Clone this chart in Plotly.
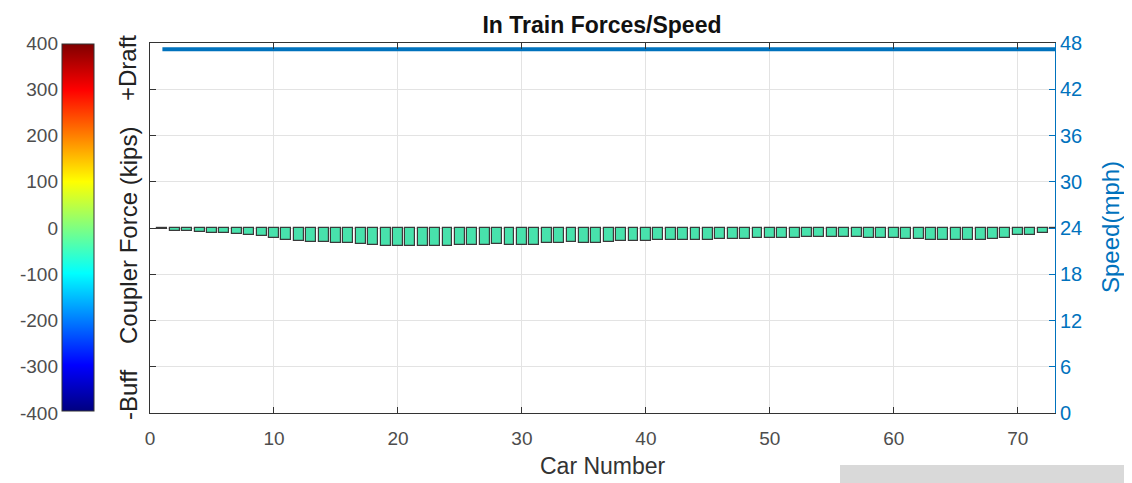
import plotly.graph_objects as go

# ---------------- data ----------------
car_numbers = list(range(1, 74))
coupler_force = [-2, -6, -7, -9, -11.5, -11.5, -13, -16, -17, -22,
                 -26, -29, -31, -31, -33, -33, -35, -37, -39, -38,
                 -39, -39, -39, -39, -36, -37, -37, -34.5, -36, -36,
                 -36, -33, -33, -30, -31.5, -31.5, -30, -29, -29, -28,
                 -27, -27, -26, -26, -27, -23, -23, -23, -21.5, -21.5,
                 -21.5, -21.5, -18.5, -18.5, -18.5, -18.5, -18.5, -21.5, -21.5, -21.5,
                 -23, -24.5, -26, -26, -26, -26, -26, -24.5, -21.5, -16,
                 -14.5, -10, -3]
speed_mph = [47.2] * 73
force_ticks = [-400, -300, -200, -100, 0, 100, 200, 300, 400]
force_ticktext = ["-400", "-300", "-200", "-100", "0", "100", "200", "300", "400"]
speed_ticks = [0, 6, 12, 18, 24, 30, 36, 42, 48]
x_ticks = [0, 10, 20, 30, 40, 50, 60, 70]

# page body has an 8px margin: figure is sized/positioned to compensate
OFF = 8
W, H = 1132 - OFF, 483 - OFF
FONT = "Arial, Liberation Sans, sans-serif"
BLUE = "rgb(0,114,189)"
TICKGRAY = "#4d4d4d"

jet = [[0.0, "rgb(0,0,128)"], [0.125, "rgb(0,0,255)"], [0.375, "rgb(0,255,255)"],
       [0.5, "rgb(128,255,128)"], [0.625, "rgb(255,255,0)"], [0.875, "rgb(255,0,0)"],
       [1.0, "rgb(128,0,0)"]]

def px(x):
    return (x - OFF) / W

def py(y):
    return 1 - (y - OFF) / H

fig = go.Figure()

fig.add_trace(go.Bar(
    x=car_numbers, y=coupler_force, width=0.8,
    marker=dict(color="rgb(72,226,172)",
                line=dict(color="#3a3a3a", width=1.2)),
    showlegend=False, hoverinfo="x+y",
))

# colorbar (jet, -400..400) via an invisible marker trace
fig.add_trace(go.Scatter(
    x=[None], y=[None], mode="markers",
    marker=dict(color=[0], colorscale=jet, cmin=-400, cmax=400, showscale=True,
                colorbar=dict(x=px(62), xanchor="left", y=py(44), yanchor="top",
                              len=(411 - 44) / H, lenmode="fraction",
                              thickness=32, thicknessmode="pixels",
                              outlinewidth=1, outlinecolor="#333",
                              showticklabels=False, ticks="", xpad=0, ypad=0)),
    showlegend=False, hoverinfo="skip",
))

# dummy trace for colorbar label axis
fig.add_trace(go.Scatter(x=[None], y=[None], yaxis="y3", showlegend=False, hoverinfo="skip"))

fig.add_trace(go.Scatter(
    x=car_numbers, y=speed_mph, yaxis="y2", mode="lines",
    line=dict(color=BLUE, width=4), showlegend=False,
))

fig.update_layout(
    width=W, height=H,
    margin=dict(l=0, r=0, t=0, b=0, autoexpand=False),
    paper_bgcolor="white", plot_bgcolor="white",
    font=dict(family=FONT, size=19, color=TICKGRAY),
    bargap=0,
    xaxis=dict(domain=[px(150), px(1055)], range=[0, 73], tickvals=x_ticks,
               ticks="inside", ticklen=6, tickcolor="#333", mirror="ticks",
               showline=True, linecolor="#333", linewidth=1,
               showgrid=True, gridcolor="#e3e3e3", zeroline=False,
               ticklabelstandoff=8,
               tickfont=dict(size=19, color=TICKGRAY)),
    yaxis=dict(domain=[py(413), py(43)], range=[-400, 400], tickvals=force_ticks,
               ticks="inside", ticklen=6, tickcolor="#333",
               showline=True, linecolor="#333", linewidth=1,
               showticklabels=False, showgrid=True, gridcolor="#e3e3e3",
               zeroline=False),
    yaxis2=dict(overlaying="y", side="right", range=[0, 48], tickvals=speed_ticks,
                ticks="inside", ticklen=6, tickcolor=BLUE,
                showline=True, linecolor=BLUE, linewidth=1,
                showgrid=False, zeroline=False,
                tickfont=dict(size=20, color=BLUE)),
    yaxis3=dict(overlaying="y", anchor="free", position=px(58), side="left",
                range=[-400, 400], tickvals=force_ticks, ticktext=force_ticktext,
                ticks="", showline=False, showgrid=False, zeroline=False,
                tickfont=dict(size=19, color=TICKGRAY)),
    title=dict(text="<b>In Train Forces/Speed</b>", x=px(602), xanchor="center",
               y=py(25), yanchor="middle", font=dict(size=23, color="#111")),
)

ann = [
    dict(text="Car Number", x=px(603), y=py(466), font=dict(size=23, color="#333")),
    dict(text="Coupler Force (kips)", x=px(128), y=py(236), textangle=-90,
         font=dict(size=24, color="#222")),
    dict(text="+Draft", x=px(128), y=py(68), textangle=-90, font=dict(size=24, color="#222")),
    dict(text="-Buff", x=px(128), y=py(395), textangle=-90, font=dict(size=24, color="#222")),
    dict(text="Speed(mph)", x=px(1110), y=py(227), textangle=-90, font=dict(size=24, color=BLUE)),
]
for a in ann:
    fig.add_annotation(xref="paper", yref="paper", showarrow=False,
                       xanchor="center", yanchor="middle", **a)

fig.add_shape(type="rect", xref="paper", yref="paper", x0=px(840), x1=1.0,
              y0=0, y1=py(465), fillcolor="#d9d9d9", line=dict(width=0), layer="above")

fig.write_html("out.html")
